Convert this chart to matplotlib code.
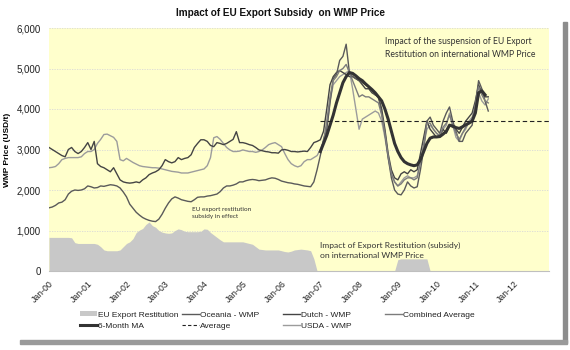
import numpy as np
import matplotlib
matplotlib.use("Agg")
import matplotlib.pyplot as plt
from matplotlib.lines import Line2D
from matplotlib.patches import Patch, Rectangle

# ---------------- data (monthly, decimal years) ----------------
start_main = 2000.0  # Jan-2000
oceania = [
    1560, 1580, 1620, 1680, 1700, 1760, 1900, 1970, 2000, 1990, 2000, 2030,
    2100, 2080, 2050, 2060, 2100, 2090, 2110, 2130, 2120, 2100, 2050, 1950,
    1830, 1650, 1550, 1450, 1380, 1320, 1280, 1250, 1230, 1220, 1280, 1400,
    1550, 1680, 1780, 1830, 1800, 1760, 1740, 1720, 1710, 1760, 1820, 1830,
    1830, 1850, 1860, 1880, 1900, 1960, 2050, 2100, 2100, 2120, 2150, 2200,
    2200, 2230, 2250, 2260, 2250, 2230, 2240, 2250, 2280, 2300, 2290, 2260,
    2220, 2200, 2180, 2170, 2150, 2140, 2120, 2100, 2090, 2080, 2200, 2500,
    2850, 3250, 3500, 4150, 4750, 4850, 5200, 5300, 5600, 4900, 4800, 4750,
    4700, 4650, 4600, 4550, 4450, 4350, 4300, 3900, 3400, 2800, 2300, 2000,
    1900, 1880, 2000, 2200, 2100, 2050, 2080, 2500, 3000, 3700, 3800, 3600,
    3500, 3400, 3700, 3900, 4050, 3700, 3450, 3200, 3200, 3400, 3500, 3600,
    4100, 4700, 4500, 4200, 3950,
]
dutch = [
    3050, 3000, 2950, 2900, 2850, 2820, 3000, 3050, 2950, 2900, 2950, 3050,
    3170, 3000, 3200, 2650, 2580, 2550, 2500, 2450, 2550, 2400, 2250, 2200,
    2180, 2170, 2180, 2200, 2180, 2250, 2300, 2380, 2420, 2450, 2500, 2600,
    2750, 2700, 2670, 2700, 2800, 2750, 2780, 2800, 2870, 3050, 3150, 3240,
    3240, 3200, 3100, 3070, 3170, 3150, 3120, 3150, 3200, 3250, 3440, 3170,
    3170, 3150, 3120, 3100, 3050, 2990, 2970, 2950, 2940, 2920, 2920, 2910,
    2990, 3000, 2980, 2950, 2950, 2940, 2950, 2960, 2950, 3050, 3170, 3200,
    3240, 3450, 4000, 4600, 4800, 4900, 4950, 4900, 4850, 4800, 4800, 4750,
    4700, 4600, 4500, 4500, 4400, 4350, 4300, 4000, 3500, 2900, 2500, 2300,
    2250, 2400, 2450, 2400, 2500, 2450, 2500, 2900, 3300, 3700, 3500, 3400,
    3300, 3350, 3500, 3400, 3600, 3550, 3500, 3400, 3550, 3700, 3800, 3900,
    4200, 4600, 4400, 4300, 4300,
]
usda = [
    2550, 2560, 2580, 2650, 2750, 2780, 2800, 2800, 2800, 2800, 2820, 2900,
    2950, 2950, 3000, 3150, 3250, 3370, 3380, 3340, 3300, 3200, 2750, 2720,
    2780, 2730, 2680, 2640, 2600, 2580, 2570, 2560, 2550, 2550, 2540, 2520,
    2500, 2480, 2460, 2450, 2440, 2420, 2420, 2420, 2440, 2460, 2480, 2500,
    2520, 2600, 2800, 3290, 3320, 3250, 3150, 3050, 2990, 2950, 2950, 2960,
    2990, 2970, 2950, 2950, 2930, 2950, 2990, 3050, 3120, 3150, 3170, 3120,
    3070, 2900, 2750, 2650, 2600, 2570, 2600, 2700, 2750, 2750, 2800, 2850,
    3000, 3200, 3500, 4200, 4600, 4700, 4800, 4850, 4900, 4950, 4500, 4000,
    3500, 3750, 3800, 3850, 3900, 3950, 3900, 3700, 3300, 2800, 2400, 2200,
    2100, 2200, 2300, 2350, 2300, 2300, 2350, 2700, 3100, 3500, 3600, 3500,
    3400, 3300, 3500, 3600, 3900, 3600, 3300, 3200, 3400, 3500, 3700, 3800,
    4000, 4400, 4200, 4100, 4250,
]
start_2007 = 2007.0  # Jan-2007
combined_avg = [
    2950, 3200, 3700, 4300, 4700, 4800, 4950, 5000, 5100, 4900, 4700, 4500,
    4300, 4350, 4300, 4300, 4250, 4200, 4150, 3850, 3400, 2850, 2400, 2200,
    2100, 2150, 2250, 2300, 2300, 2250, 2300, 2700, 3100, 3650, 3650, 3500,
    3400, 3350, 3550, 3650, 3850, 3600, 3400, 3250, 3400, 3550, 3650, 3750,
    4100, 4550, 4350, 4200, 4150,
]
ma6 = [
    2950, 3150, 3350, 3600, 3850, 4150, 4400, 4650, 4800, 4900, 4880, 4820,
    4750, 4700, 4620, 4550, 4480, 4400, 4300, 4200, 4000, 3750, 3450, 3150,
    2950, 2800, 2700, 2650, 2620, 2600, 2620, 2750, 2950, 3150, 3280, 3310,
    3310, 3320, 3380, 3450, 3600, 3580, 3540, 3520, 3560, 3610, 3650, 3700,
    3900, 4400, 4450, 4350,
]
restitution = [
    830, 830, 830, 830, 830, 830, 830, 820, 700, 680, 680, 680,
    680, 680, 680, 660, 600, 520, 500, 500, 500, 500, 520, 600,
    680, 720, 800, 950, 1010, 1050, 1150, 1210, 1120, 1080, 1000, 960,
    940, 930, 940, 1000, 1040, 1020, 980, 970, 970, 970, 970, 980,
    1040, 1030, 950, 890, 830, 770, 720, 720, 720, 720, 720, 720,
    720, 700, 680, 660, 600, 540, 530, 520, 520, 520, 520, 520,
    500, 480, 470, 490, 520, 530, 540, 530, 520, 500, 300, 0,
    0, 0, 0, 0, 0, 0, 0, 0, 0, 0, 0, 0,
    0, 0, 0, 0, 0, 0, 0, 0, 0, 0, 0, 0,
    280, 300, 300, 300, 300, 300, 300, 300, 300, 300, 0, 0,
    0, 0, 0, 0, 0, 0, 0, 0, 0, 0, 0, 0,
]
average_value = 3700
average_span = [2007.0, 2012.9]

x_ticks_years = list(range(2000, 2013))
x_tick_labels = ["Jan-%02d" % (y % 100) for y in x_ticks_years]
y_ticks = [0, 1000, 2000, 3000, 4000, 5000, 6000]
y_tick_labels = ["0", "1,000", "2,000", "3,000", "4,000", "5,000", "6,000"]

def months(start, n):
    return start + np.arange(n) / 12.0

# ---------------- figure ----------------
plt.rcParams['font.family'] = ['Liberation Sans', 'DejaVu Sans']
W, H = 570, 350
fig = plt.figure(figsize=(W / 100, H / 100), dpi=100)
fig.patch.set_facecolor('white')

# drop-shadow frame
fig.patches.append(Rectangle((563 / W, 1 - 343 / H), 4 / W, (343 - 22) / H,
                             transform=fig.transFigure, color='#8c8c8c', zorder=0))
fig.patches.append(Rectangle((20 / W, 1 - 344 / H), (567 - 20) / W, 4 / H,
                             transform=fig.transFigure, color='#9a9a9a', zorder=0))

ax = fig.add_axes([49 / W, 1 - 271 / H, (549 - 49) / W, (271 - 28) / H])
ax.set_facecolor('#FFFFCC')

ax.set_xlim(2000.0, 2012.9)
ax.set_ylim(0, 6000)

for v in y_ticks[1:]:
    ax.axhline(v, color='#d8d8d8', lw=0.6, ls=(0, (1.5, 1.5)), zorder=1)

xr = months(start_main, len(restitution))
ax.fill_between(xr, restitution, 0, color='#c8c8c8', lw=0, zorder=2)

c_oce, c_dut, c_usda, c_comb, c_ma = '#5a5a5a', '#444444', '#9c9c9c', '#7c7c7c', '#333333'
ax.plot(months(start_main, len(usda)), usda, color=c_usda, lw=1.0, zorder=3)
ax.plot(months(start_main, len(dutch)), dutch, color=c_dut, lw=1.0, zorder=3)
ax.plot(months(start_main, len(oceania)), oceania, color=c_oce, lw=1.0, zorder=3)
ax.plot(months(start_2007, len(combined_avg)), combined_avg, color=c_comb, lw=1.0, zorder=3)
ax.plot(months(start_2007, len(ma6)), ma6, color=c_ma, lw=2.2, zorder=4)
ax.plot(average_span, [average_value, average_value], color='#222222', lw=0.8,
        ls=(0, (4, 2.5)), zorder=4)

for s in ['top', 'right', 'left']:
    ax.spines[s].set_visible(False)
ax.spines['bottom'].set_color('#bfbfbf')
ax.spines['bottom'].set_linewidth(0.8)

ax.set_yticks(y_ticks)
ax.set_yticklabels(y_tick_labels, fontsize=7, color='#222222')
ax.tick_params(axis='y', length=0, pad=6)
ax.set_xticks(x_ticks_years)
ax.set_xticklabels(x_tick_labels, fontsize=6.3, rotation=45, ha='right',
                   va='top', rotation_mode='anchor', color='#222222')
ax.tick_params(axis='x', length=0, pad=6)

ax.set_ylabel('WMP Price (USD/t)', fontsize=6, fontweight='bold', labelpad=8)
ax.yaxis.set_label_coords(-0.075, 0.5)

fig.text(281 / W, 1 - 13 / H, 'Impact of EU Export Subsidy  on WMP Price',
         ha='center', va='center', fontsize=7.2, fontweight='bold', color='#111111')

ann_font = ['Lato', 'DejaVu Sans']
ax.text(2008.67, 5500, 'Impact of the suspension of EU Export\nRestitution on international WMP Price',
        fontsize=6.2, family=ann_font, color='#333333', va='center', ha='left', linespacing=1.5)
ax.text(2003.7, 1430, 'EU export restitution\nsubsidy in effect',
        fontsize=4.6, family=ann_font, color='#333333', va='center', ha='left', linespacing=1.4)
ax.text(2006.98, 500, 'Impact of Export Restitution (subsidy)\non international WMP Price',
        fontsize=6.1, family=ann_font, color='#333333', va='center', ha='left', linespacing=1.5)

# legend, four columns
cols = [
    (80, [(Patch(facecolor='#c8c8c8', edgecolor='none'), 'EU Export Restitution'),
          (Line2D([], [], color=c_ma, lw=2.2), '6-Month MA')]),
    (182, [(Line2D([], [], color=c_oce, lw=1.0), 'Oceania - WMP'),
           (Line2D([], [], color='#222222', lw=0.8, ls=(0, (3, 2))), 'Average')]),
    (283, [(Line2D([], [], color=c_dut, lw=1.0), 'Dutch - WMP'),
           (Line2D([], [], color=c_usda, lw=1.0), 'USDA - WMP')]),
    (385, [(Line2D([], [], color=c_comb, lw=1.0), 'Combined Average')]),
]
for xpx, items in cols:
    leg = fig.legend([h for h, _ in items], [l for _, l in items],
                     loc='upper left', bbox_to_anchor=(xpx / W, 1 - 311 / H),
                     frameon=False, fontsize=6, handlelength=2.0, handleheight=0.6,
                     handletextpad=0.2, borderpad=0, borderaxespad=0, labelspacing=0.45)
    for t in leg.get_texts():
        t.set_color('#222222')

fig.savefig('out.png', dpi=100)
